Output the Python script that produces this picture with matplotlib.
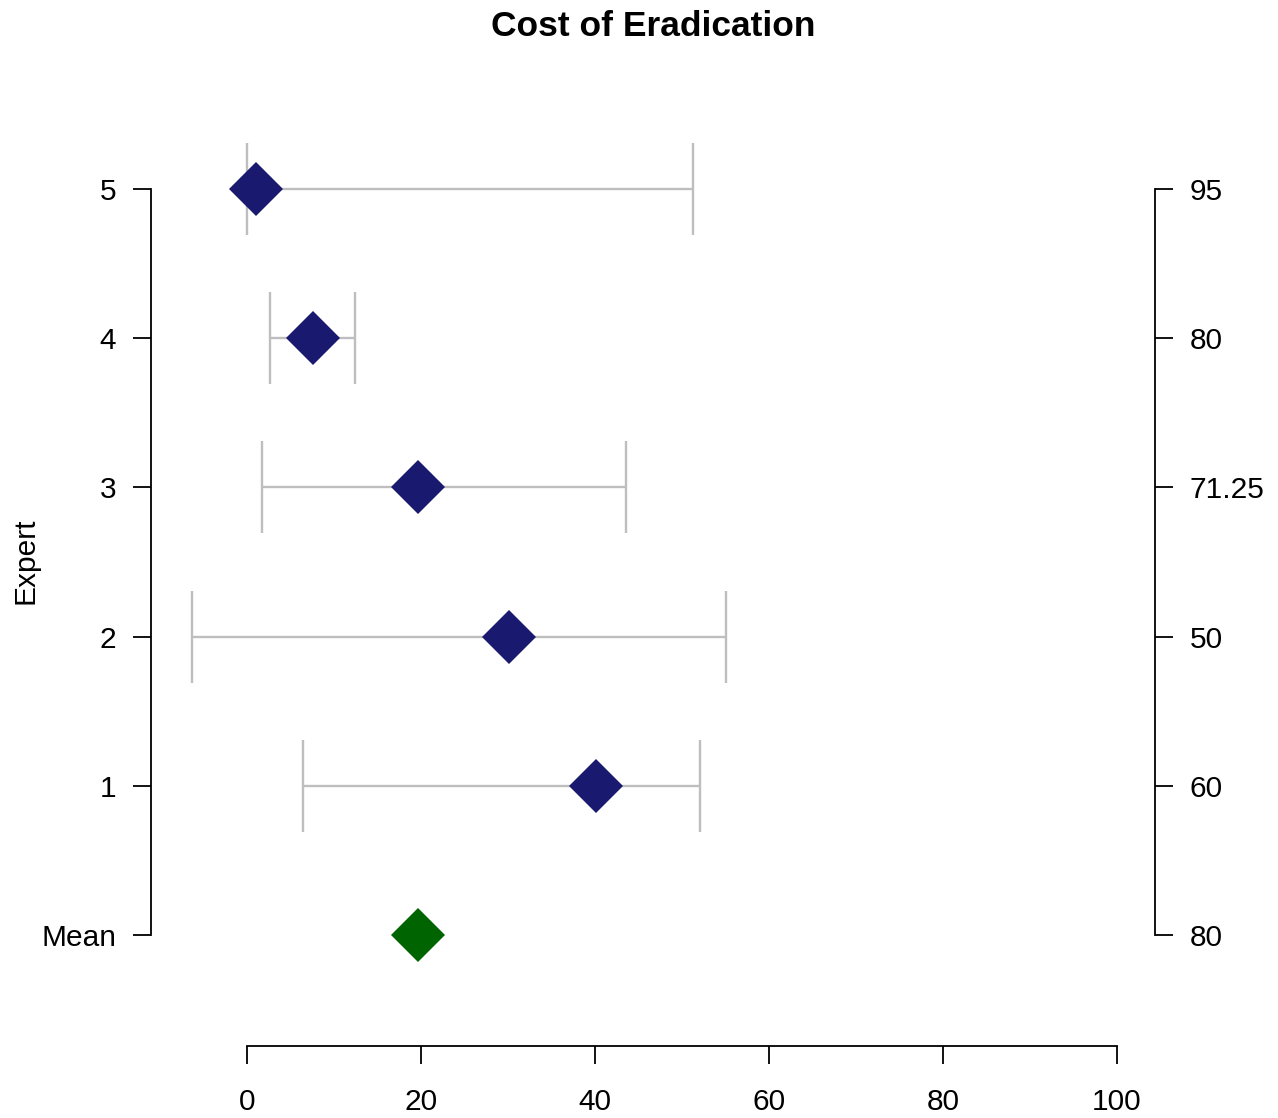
import matplotlib
matplotlib.use("Agg")
import matplotlib.pyplot as plt
import numpy as np

plt.rcParams['font.family'] = ['Liberation Sans', 'DejaVu Sans']

# Data
labels_left = ["Mean", "1", "2", "3", "4", "5"]
labels_right = ["80", "60", "50", "71.25", "80", "95"]
expert_pos = [1, 2, 3, 4, 5]
expert_best = [40.1, 30.1, 19.7, 7.6, 1.0]
expert_low = [6.4, -6.3, 1.7, 2.6, 0.0]
expert_high = [52.1, 55.1, 43.6, 12.4, 51.3]
mean_value = 19.7
x_ticks = [0, 20, 40, 60, 80, 100]

W, H = 1278, 1118
fig = plt.figure(figsize=(W / 100, H / 100), dpi=100)
ax = fig.add_axes([151 / W, 1 - 1046 / H, (1155 - 151) / W, (1046 - 78) / H])

grey = "#BEBEBE"
lw_axis = 1.3
fs = 21.5
best = np.array(expert_best)
lo = best - np.array(expert_low)
hi = np.array(expert_high) - best
ax.errorbar(best, expert_pos, xerr=[lo, hi], fmt="none", ecolor=grey,
            elinewidth=1.7, capsize=33, capthick=1.7, zorder=1)
ax.plot(best, expert_pos, linestyle="none", marker="D", markersize=28,
        color="#191970", markeredgewidth=0, zorder=2)
ax.plot([mean_value], [0], linestyle="none", marker="D", markersize=28,
        color="#006400", markeredgewidth=0, zorder=2)

ax.set_xlim(-11.03, 104.37)
ax.set_ylim(-0.744, 5.744)

ax.spines["top"].set_visible(False)
ax.spines["right"].set_visible(False)
ax.spines["left"].set_bounds(0, 5)
ax.spines["bottom"].set_bounds(0, 100)
for s in ["left", "bottom"]:
    ax.spines[s].set_linewidth(lw_axis)

ax.set_yticks(range(6))
ax.set_yticklabels(labels_left)
ax.set_xticks(x_ticks)
ax.set_xticklabels([str(v) for v in x_ticks])
ax.tick_params(axis="both", direction="out", length=13, width=lw_axis,
               labelsize=fs, colors="black")
ax.tick_params(axis="y", pad=12)
ax.tick_params(axis="x", pad=17)

ax2 = ax.twinx()
ax2.set_ylim(ax.get_ylim())
for s in ["top", "left", "bottom"]:
    ax2.spines[s].set_visible(False)
ax2.spines["right"].set_bounds(0, 5)
ax2.spines["right"].set_linewidth(lw_axis)
ax2.set_yticks(range(6))
ax2.set_yticklabels(labels_right)
ax2.tick_params(axis="y", direction="out", length=13, width=lw_axis,
                labelsize=fs, pad=12)

fig.text(25 / W, 1 - 561 / H, "Expert", rotation=90, ha="center", va="center",
         fontsize=fs)
fig.text(653 / W, 1 - 27 / H, "Cost of Eradication", ha="center", va="center",
         fontsize=25.5, fontweight="bold")

fig.savefig("out.png", dpi=100)
